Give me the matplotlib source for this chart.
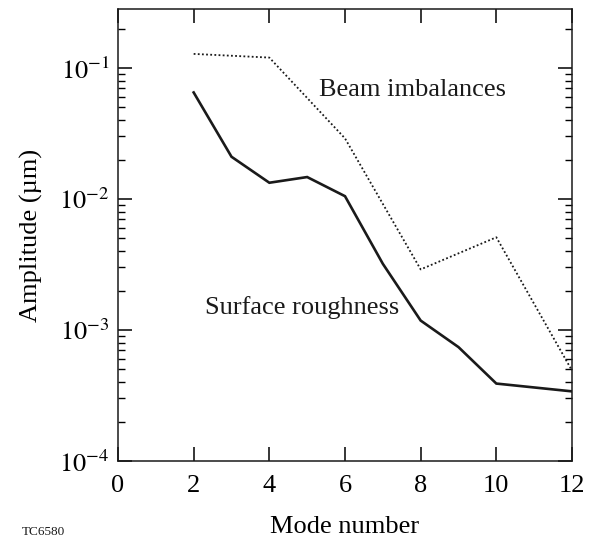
import matplotlib
matplotlib.use("Agg")
import matplotlib.pyplot as plt
from matplotlib.ticker import LogLocator, NullFormatter

plt.rcParams['font.family'] = ['Liberation Serif', 'DejaVu Serif']
plt.rcParams['mathtext.fontset'] = 'stix'

rough_x = [2, 3, 4, 5, 6, 7, 8, 9, 10, 12]
rough_y = [0.065, 0.021, 0.0133, 0.0147, 0.0105, 0.0032, 0.00118, 0.00074, 0.00039, 0.00034]

beam_x = [2, 4, 6, 8, 10, 12]
beam_y = [0.128, 0.12, 0.029, 0.0029, 0.0051, 0.00049]

x_ticks = [0, 2, 4, 6, 8, 10, 12]
y_ticks = [1e-4, 1e-3, 1e-2, 1e-1]
y_labels = [r'$10^{-4}$', r'$10^{-3}$', r'$10^{-2}$', r'$10^{-1}$']

FS = 19

fig = plt.figure(figsize=(5.9, 5.4), dpi=100)
ax = fig.add_axes([118/590, 1 - 461/540, (572-118)/590, (461-9)/540])

ax.plot(rough_x, rough_y, color='#1a1a1a', lw=1.9, solid_joinstyle='miter')
ax.plot(beam_x, beam_y, color='#1a1a1a', lw=1.3, linestyle=(0, (1, 1.3)))

ax.set_yscale('log')
ax.set_xlim(0, 12)
ax.set_ylim(1e-4, 10**-0.55)

ax.set_xticks(x_ticks)
ax.set_xticklabels([str(t) for t in x_ticks])
ax.set_yticks(y_ticks)
ax.set_yticklabels(y_labels)
ax.yaxis.set_minor_locator(LogLocator(base=10, subs=range(2, 10)))
ax.yaxis.set_minor_formatter(NullFormatter())

ax.tick_params(axis='both', which='major', direction='in', length=10, width=1.1,
               labelsize=FS, top=True, right=True)
ax.tick_params(axis='x', which='major', pad=10)
ax.tick_params(axis='y', which='major', pad=6)
ax.tick_params(axis='y', which='minor', direction='in', length=5, width=1.0, right=True)
for s in ax.spines.values():
    s.set_linewidth(1.1)
    s.set_color('#1a1a1a')

ax.set_xlabel('Mode number', fontsize=FS, labelpad=14)
ax.set_ylabel('Amplitude (µm)', fontsize=FS, labelpad=12)

ax.text(5.3, 0.061, 'Beam imbalances', fontsize=FS, ha='left', va='baseline', color='#1a1a1a')
ax.text(2.3, 0.00132, 'Surface roughness', fontsize=FS, ha='left', va='baseline', color='#1a1a1a')

fig.text(22/590, 5/540, 'TC6580', fontsize=9.5, ha='left', va='baseline', color='#1a1a1a')

fig.savefig('out.png', dpi=100)
